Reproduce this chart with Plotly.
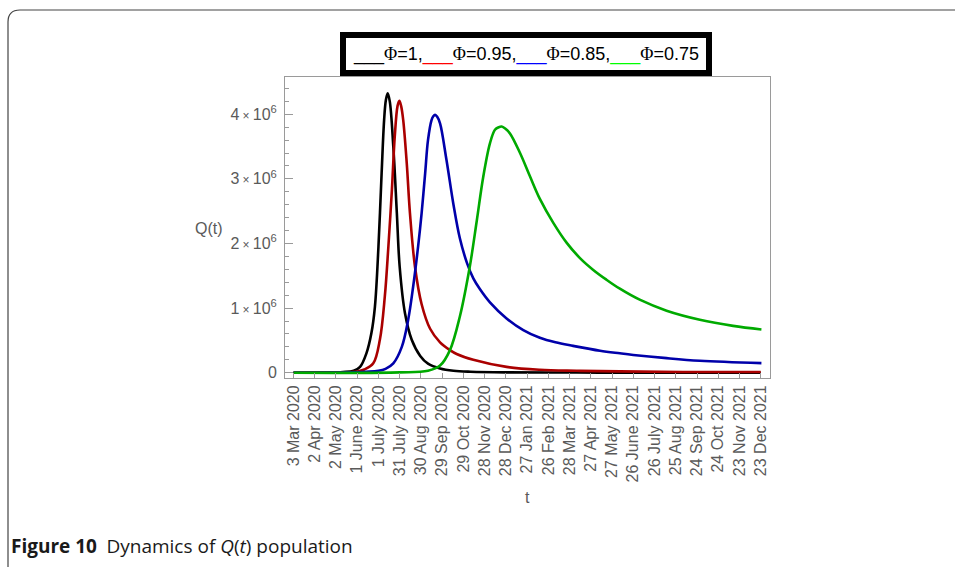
import numpy as np
import plotly.graph_objects as go

# ---- data: Q(t) for four fractional orders, days counted from 3 Mar 2020 ----
days_phi100 = [0, 40, 70, 85, 94, 103, 110, 115, 120, 124.5, 128, 130.5, 133, 136, 141, 146,
               150, 157.5, 167, 179, 190, 207, 226, 250, 300, 400, 500, 660]
q_phi100 = [0.0, 0.002, 0.01, 0.03, 0.09, 0.30, 0.61, 1.02, 1.95, 3.09, 3.91, 4.22, 4.325, 4.20,
            3.50, 2.47, 1.64, 0.92, 0.51, 0.26, 0.14, 0.065, 0.03, 0.015, 0.005, 0.002, 0.001, 0.0]

days_phi095 = [0, 60, 90, 100, 112.7, 122, 129, 134, 139, 143, 147, 149.5, 152, 155, 160, 164.5,
               171.6, 181, 193, 207, 221, 230.5, 254, 301, 348, 400, 461, 550, 660]
q_phi095 = [0.0, 0.005, 0.02, 0.05, 0.145, 0.51, 1.18, 1.95, 2.83, 3.65, 4.13, 4.21, 4.13, 3.91,
            3.24, 2.47, 1.64, 1.06, 0.68, 0.47, 0.35, 0.29, 0.20, 0.09, 0.045, 0.03, 0.02, 0.012,
            0.01]

days_phi085 = [0, 80, 120, 130, 141, 153, 162, 169, 176, 181, 186, 190, 195, 197.5, 200, 203,
               207, 216, 226, 235, 245, 254, 263, 277.5, 301, 324.6, 348, 370, 395, 433, 461, 480,
               527, 574, 661]
q_phi085 = [0.0, 0.005, 0.03, 0.06, 0.145, 0.40, 0.82, 1.33, 1.95, 2.47, 3.09, 3.60, 3.91, 3.97,
            3.99, 3.96, 3.86, 3.30, 2.60, 2.08, 1.70, 1.46, 1.30, 1.09, 0.84, 0.66, 0.54, 0.47,
            0.415, 0.34, 0.30, 0.275, 0.225, 0.185, 0.148]

days_phi075 = [0, 150, 190, 207, 221, 235, 249, 259, 268, 277.5, 284.6, 290, 294, 299, 306, 320,
               334, 348, 367, 386, 405, 423, 442, 461, 489, 527, 574, 621, 661]
q_phi075 = [0.0, 0.005, 0.03, 0.11, 0.35, 0.87, 1.64, 2.36, 3.03, 3.55, 3.76, 3.80, 3.81, 3.78,
            3.70, 3.40, 3.04, 2.69, 2.32, 2.01, 1.77, 1.595, 1.44, 1.30, 1.13, 0.96, 0.82,
            0.725, 0.67]

tick_days = list(range(0, 661, 30))
tick_labels = ["3 Mar 2020", "2 Apr 2020", "2 May 2020", "1 June 2020", "1 July 2020",
               "31 July 2020", "30 Aug 2020", "29 Sep 2020", "29 Oct 2020", "28 Nov 2020",
               "28 Dec 2020", "27 Jan 2021", "26 Feb 2021", "28 Mar 2021", "27 Apr 2021",
               "27 May 2021", "26 June 2021", "26 July 2021", "25 Aug 2021", "24 Sep 2021",
               "24 Oct 2021", "23 Nov 2021", "23 Dec 2021"]

y_ticks = [0, 1e6, 2e6, 3e6, 4e6]
y_labels = ["0"] + [f"{k}\u2009<span style='font-size:12px'>\u00d7</span>\u200910<sup>6</sup>"
                    for k in (1, 2, 3, 4)]

series = [
    ("\u03a6=1", days_phi100, q_phi100, "#000000"),
    ("\u03a6=0.95", days_phi095, q_phi095, "#aa0000"),
    ("\u03a6=0.85", days_phi085, q_phi085, "#0000aa"),
    ("\u03a6=0.75", days_phi075, q_phi075, "#00aa00"),
]

# ---- layout geometry (pixels) ----
W, H = 955, 567
L, R, T, B = 285, 770, 77, 378


def px(x):
    return (x - L) / (R - L)


def py(y):
    return (B - y) / (B - T)


fig = go.Figure()
for name, d, q, col in series:
    fig.add_trace(go.Scatter(
        x=d, y=np.array(q) * 1e6, mode="lines", name=name,
        line=dict(color=col, width=2.6, shape="spline", smoothing=1.0),
        showlegend=False,
    ))

axis_gray = "#9a9a9a"
label_gray = "#5a5a5a"

fig.update_layout(
    width=W, height=H, autosize=False,
    margin=dict(l=L, r=W - R, t=T, b=H - B, pad=0),
    paper_bgcolor="white", plot_bgcolor="white",
    font=dict(family="Liberation Sans, Arial, sans-serif", size=16, color=label_gray),
    xaxis=dict(
        range=[-12, 673.1], tickmode="array", tickvals=tick_days, ticktext=tick_labels,
        tickangle=-90, ticks="inside", ticklen=5, tickcolor=axis_gray,
        showline=True, linecolor=axis_gray, linewidth=1, mirror=True,
        showgrid=False, zeroline=False,
        tickfont=dict(size=16, color=label_gray),
    ),
    yaxis=dict(
        range=[-0.082e6, 4.577e6], tickmode="array", tickvals=y_ticks, ticktext=y_labels,
        ticks="inside", ticklen=8, tickcolor=axis_gray,
        minor=dict(tickmode="linear", tick0=0, dtick=0.2e6, ticks="inside", ticklen=4,
                   tickcolor=axis_gray),
        showline=True, linecolor=axis_gray, linewidth=1, mirror=True,
        showgrid=False, zeroline=False, ticklabelstandoff=4,
        tickfont=dict(size=16, color=label_gray),
    ),
)

phi = "<span style=\"font-family:'Liberation Serif', 'DejaVu Serif', serif\">\u03a6</span>"
legend_text = (
    "___" + phi + "=1,"
    + "<span style='color:#ff0000'>___</span>" + phi + "=0.95,"
    + "<span style='color:#0000ff'>___</span>" + phi + "=0.85,"
    + "<span style='color:#00ff00'>___</span>" + phi + "=0.75"
)

fig.add_annotation(
    text=legend_text, xref="paper", yref="paper", x=px(526), y=py(54),
    xanchor="center", yanchor="middle", showarrow=False,
    font=dict(family="Liberation Sans, Arial, sans-serif", size=18, color="#000000"),
    bgcolor="white", bordercolor="black", borderwidth=6, borderpad=4,
    width=352, height=24,
)

fig.add_annotation(text="Q(t)", xref="paper", yref="paper", x=px(209), y=py(228),
                   xanchor="center", yanchor="middle", showarrow=False,
                   font=dict(size=16, color=label_gray))
fig.add_annotation(text="t", xref="paper", yref="paper", x=px(527), y=py(497),
                   xanchor="center", yanchor="middle", showarrow=False,
                   font=dict(size=16, color=label_gray))

fig.add_annotation(
    text="<b>Figure 10</b>\u2002Dynamics of <i>Q</i>(<i>t</i>) population",
    xref="paper", yref="paper", x=px(9), y=py(546), xanchor="left", yanchor="middle",
    showarrow=False,
    font=dict(family="Open Sans, sans-serif", size=19, color="#1a1a1a"),
)

# page frame with a rounded top-left corner
frame_path = (f"M {px(8)},{py(575)} L {px(8)},{py(22)} "
              f"Q {px(8)},{py(10)} {px(20)},{py(10)} L {px(970)},{py(10)}")
fig.add_shape(type="path", path=frame_path, xref="paper", yref="paper",
              line=dict(color="#444444", width=1.2), layer="below")

fig.write_html("out.html")
